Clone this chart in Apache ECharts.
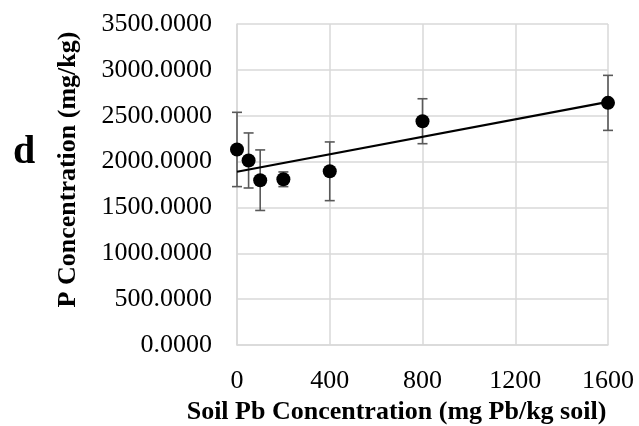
<!DOCTYPE html>
<html>
<head>
<meta charset="utf-8">
<script src="https://cdn.jsdelivr.net/npm/echarts@6/dist/echarts.min.js"></script>
<style>
  html, body { margin: 0; padding: 0; background: #fff; }
  #chart { width: 639px; height: 426px; }
</style>
</head>
<body>
<div id="chart"></div>
<script>
// Soil Pb dose (mg Pb/kg soil) and measured P concentration (mg/kg)
const pbDose = [0, 50, 100, 200, 400, 800, 1600];
const pConc = [2132, 2012, 1797, 1807, 1894, 2440, 2640];
const pErr = [405, 300, 330, 80, 320, 245, 300];

const FONT = '"Liberation Serif", "Times New Roman", serif';

// Linear least-squares trendline through the measured points
const n = pbDose.length;
const mx = pbDose.reduce((a, b) => a + b, 0) / n;
const my = pConc.reduce((a, b) => a + b, 0) / n;
let sxy = 0, sxx = 0;
for (let i = 0; i < n; i++) {
  sxy += (pbDose[i] - mx) * (pConc[i] - my);
  sxx += (pbDose[i] - mx) * (pbDose[i] - mx);
}
const slope = sxy / sxx;
const intercept = my - slope * mx;
const trendX = [pbDose[0], pbDose[n - 1]];
const trendLine = trendX.map(x => [x, intercept + slope * x]);

const points = pbDose.map((x, i) => [x, pConc[i]]);
const errData = pbDose.map((x, i) => [x, pConc[i] - pErr[i], pConc[i] + pErr[i]]);

const chart = echarts.init(document.getElementById('chart'), null, { renderer: 'canvas' });
chart.setOption({
  animation: false,
  backgroundColor: '#ffffff',
  title: {
    text: 'd',
    left: 8,
    top: 128,
    textStyle: { fontFamily: FONT, fontWeight: 'bold', fontSize: 40, color: '#000' }
  },
  grid: {
    left: 237, right: 31, top: 24, bottom: 81,
    containLabel: false,
    outerBoundsMode: 'none'
  },
  xAxis: {
    type: 'value',
    min: 0, max: 1600, interval: 400,
    name: 'Soil Pb Concentration (mg Pb/kg soil)',
    nameLocation: 'middle',
    nameGap: 53,
    nameTextStyle: {
      fontFamily: FONT, fontWeight: 'bold', fontSize: 26, color: '#000',
      padding: [0, 52, 0, 0]
    },
    axisLine: { show: true, lineStyle: { color: '#d9d9d9', width: 1.5 } },
    axisTick: { show: false },
    axisLabel: {
      fontFamily: FONT, fontSize: 26, color: '#000', margin: 23,
      formatter: v => String(v)
    },
    splitLine: { show: true, lineStyle: { color: '#d9d9d9', width: 1.5 } }
  },
  yAxis: {
    type: 'value',
    min: 0, max: 3500, interval: 500,
    name: 'P Concentration (mg/kg)',
    nameLocation: 'middle',
    nameRotate: 90,
    nameGap: 156,
    nameTextStyle: {
      fontFamily: FONT, fontWeight: 'bold', fontSize: 26, color: '#000',
      padding: [0, 0, 0, 30]
    },
    axisLine: { show: true, lineStyle: { color: '#d9d9d9', width: 1.5 } },
    axisTick: { show: false },
    axisLabel: {
      fontFamily: FONT, fontSize: 26, color: '#000', margin: 25,
      formatter: v => v.toFixed(4)
    },
    splitLine: { show: true, lineStyle: { color: '#d9d9d9', width: 1.5 } }
  },
  series: [
    {
      type: 'custom',
      name: 'error',
      data: errData,
      z: 2,
      renderItem: (params, api) => {
        const x = api.value(0);
        const lo = api.coord([x, api.value(1)]);
        const hi = api.coord([x, api.value(2)]);
        const cap = 5;
        const style = { stroke: '#595959', lineWidth: 1.6 };
        return {
          type: 'group',
          children: [
            { type: 'line', shape: { x1: hi[0], y1: hi[1], x2: lo[0], y2: lo[1] }, style },
            { type: 'line', shape: { x1: hi[0] - cap, y1: hi[1], x2: hi[0] + cap, y2: hi[1] }, style },
            { type: 'line', shape: { x1: lo[0] - cap, y1: lo[1], x2: lo[0] + cap, y2: lo[1] }, style }
          ]
        };
      }
    },
    {
      type: 'line',
      name: 'trend',
      data: trendLine,
      symbol: 'none',
      z: 3,
      lineStyle: { color: '#000', width: 2.2 }
    },
    {
      type: 'scatter',
      name: 'P',
      data: points,
      symbol: 'circle',
      symbolSize: 14,
      clip: false,
      z: 4,
      itemStyle: { color: '#000', opacity: 1 }
    }
  ]
});
</script>
</body>
</html>
